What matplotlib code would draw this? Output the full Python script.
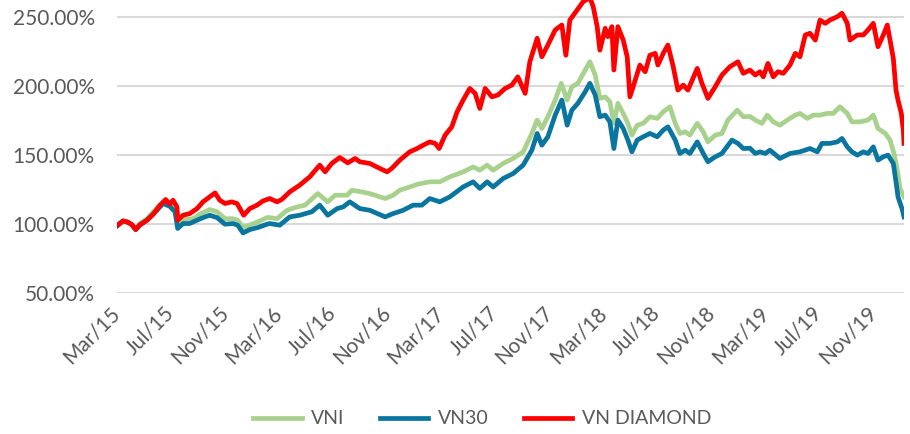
import matplotlib.pyplot as plt
from matplotlib.ticker import FuncFormatter

# trading session index (from the first session in Mar/15) and value in % of start
vni_session = [0, 9, 16, 22, 28, 34, 45, 60, 69, 73, 79, 84, 90, 91, 99, 114, 124, 139, 150, 162,
               174, 181, 189, 199, 211, 225, 229, 240, 255, 270, 282, 301, 316, 327, 345, 352, 367,
               379, 402, 414, 424, 439, 451, 469, 484, 499, 519, 534, 544, 555, 564, 579, 594, 609,
               622, 630, 637, 646, 657, 666, 675, 682, 691, 702, 709, 717, 724, 732, 739, 745, 751,
               759, 766, 772, 780, 789, 799, 810, 819, 829, 837, 844, 852, 859, 870, 879, 886, 897,
               907, 916, 930, 939, 949, 957, 967, 975, 984, 994, 1005, 1017, 1024, 1035, 1044, 1054,
               1065, 1074, 1084, 1095, 1102, 1114, 1126, 1134, 1141, 1152, 1159, 1165, 1170, 1174, 1180]
vni = [99, 102, 101.5, 99.8, 96.5, 100.5, 104, 112, 115.5, 116.2, 114.5, 113.8, 108.9, 99.3, 103.4,
       104, 107.2, 110.6, 109, 104, 104, 102.9, 97.6, 99.3, 101.7, 104.8, 104.8, 104, 110.1, 112.5,
       113.8, 122.2, 116.2, 121, 121, 124.6, 123.4, 122.2, 118.6, 121, 124.6, 127, 129, 130.7, 130.7,
       134.3, 137.9, 141.5, 139.1, 142.8, 139.1, 144, 147.6, 152.4, 165.7, 175.4, 169.3, 177.8, 189.9,
       202, 189.9, 199.5, 202, 211.6, 217.6, 208, 191.1, 192.2, 188.6, 173, 187.5, 180.2, 173, 164.5,
       171.7, 173, 177.8, 176.6, 181.4, 185, 173, 165.7, 166.9, 164.5, 173, 166.9, 159.6, 164.5, 165.7,
       175.4, 182.6, 177.8, 178, 175.4, 173, 179, 174.1, 171.7, 175.4, 179, 180.2, 176.6, 179, 179,
       180.2, 180.2, 185, 180.2, 174.1, 174.1, 175.4, 179, 169.3, 165.7, 160.9, 151.2, 139.1, 125.9,
       119.8]

vn30_session = [0, 9, 16, 22, 28, 34, 45, 60, 69, 79, 87, 91, 99, 109, 120, 129, 139, 150, 162, 174,
                181, 189, 199, 211, 225, 229, 244, 259, 274, 292, 304, 316, 330, 339, 349, 364, 379,
                402, 414, 429, 444, 457, 469, 484, 499, 519, 534, 544, 555, 564, 579, 594, 609, 622,
                630, 637, 646, 657, 667, 675, 682, 691, 702, 709, 717, 724, 732, 739, 745, 751, 759,
                766, 772, 780, 789, 799, 810, 819, 826, 837, 844, 852, 859, 870, 879, 886, 897, 907,
                922, 931, 939, 949, 957, 964, 972, 979, 994, 1009, 1024, 1039, 1050, 1057, 1069, 1080,
                1087, 1095, 1102, 1110, 1119, 1126, 1134, 1141, 1149, 1156, 1164, 1168, 1171, 1177, 1180]
vn30 = [99, 102.4, 101.5, 99.8, 96.1, 99.5, 102.9, 110.1, 115, 113, 109, 96.9, 100.5, 100.5, 102.9,
        104.8, 106.5, 104.8, 100, 100.5, 99.3, 93.7, 96.1, 97.6, 100, 100.5, 99.3, 105.3, 106.5, 109,
        113.8, 106.5, 111.3, 112.5, 116.2, 111.3, 110.1, 105.3, 107.7, 110.1, 113.8, 113.8, 118.6,
        116.2, 119.8, 127, 130.7, 125.9, 130.7, 127, 133.1, 136.7, 142.8, 153.6, 165.7, 157.2, 163.3,
        179, 189.9, 171.7, 182.6, 187.5, 195.9, 202, 193.5, 177.8, 179, 174.1, 154.8, 175.4, 169.3,
        160.9, 152.4, 160.9, 163.3, 165.7, 163.3, 168.1, 170.5, 160.9, 151.2, 153.6, 151.2, 159.6,
        151.2, 145.2, 148.8, 151.2, 160.9, 158.5, 154.8, 155, 151.2, 152.4, 151.2, 153.6, 147.6, 151.2,
        152.4, 154.8, 152.4, 158.5, 158.5, 159.6, 162.1, 156, 152.4, 150, 152.4, 151.2, 156, 146.4,
        148.8, 150, 144, 130.7, 119.8, 111.3, 105.3]

diamond_session = [0, 9, 16, 22, 28, 34, 45, 54, 64, 73, 79, 84, 90, 91, 99, 109, 120, 129, 139, 147,
                   154, 162, 172, 180, 190, 199, 210, 219, 229, 240, 247, 259, 274, 289, 304, 312, 322,
                   334, 346, 357, 364, 379, 394, 405, 412, 424, 439, 450, 459, 469, 477, 483, 492, 502,
                   510, 519, 529, 537, 544, 552, 562, 571, 582, 592, 601, 612, 619, 630, 637, 646, 657,
                   667, 673, 679, 690, 699, 709, 714, 720, 724, 732, 736, 742, 745, 751, 759, 765, 769,
                   777, 784, 792, 799, 807, 811, 819, 826, 834, 841, 849, 856, 870, 877, 886, 897, 907,
                   919, 931, 939, 949, 957, 964, 969, 976, 984, 991, 999, 1009, 1017, 1024, 1032, 1039,
                   1047, 1054, 1062, 1069, 1080, 1087, 1095, 1099, 1110, 1119, 1126, 1134, 1141, 1149,
                   1155, 1159, 1164, 1168, 1171, 1176, 1179, 1180]
diamond = [98.8, 102.4, 101.5, 99.8, 96.1, 99.3, 102.9, 107, 113.5, 117.9, 114.5, 117.4, 112.5, 102.9,
           106.5, 107.7, 111.3, 116.2, 119.8, 122.7, 117.4, 115, 116.2, 115, 106.5, 111.3, 113.8, 116.9,
           118.6, 116.2, 117.9, 123.4, 128.3, 134.3, 142.8, 137.9, 144, 148.3, 144.4, 147.6, 145.2, 144,
           140.4, 137.9, 140.4, 146.4, 152.4, 154.8, 157.2, 159.6, 158.5, 154.8, 164.5, 170.5, 181.4,
           189.9, 198.3, 194.7, 183.8, 198.3, 192.2, 193.5, 198.3, 200.7, 206.7, 194.7, 217.6, 234.6,
           221.2, 229.7, 240.6, 244.2, 222.3, 247.8, 255.1, 261.1, 264, 257.5, 243, 226, 241.8, 235.7,
           243, 211.6, 243, 233.3, 221.2, 192.2, 204.3, 215.2, 210.4, 222.3, 223.7, 215.2, 223.7, 229.7,
           214, 197.1, 200.7, 197.1, 212.8, 202, 191.1, 199.5, 208, 214, 217.6, 209.2, 211.6, 208, 210.4,
           206.7, 216.4, 206.7, 210.4, 209.2, 215.2, 223.7, 221.2, 237, 238.2, 233.3, 247.8, 245.4,
           247.8, 250.2, 252.7, 245.4, 233.3, 237, 237, 240.6, 245.4, 228.5, 237, 244.2, 233.3, 220,
           197.1, 189.9, 180.2, 168.1, 158.5]

tick_labels = ["Mar/15", "Jul/15", "Nov/15", "Mar/16", "Jul/16", "Nov/16", "Mar/17", "Jul/17",
               "Nov/17", "Mar/18", "Jul/18", "Nov/18", "Mar/19", "Jul/19", "Nov/19"]
sessions_per_label = 81

plt.rcParams['font.family'] = ['Lato', 'DejaVu Sans']
text_color = '#595959'

fig = plt.figure(figsize=(9.1, 4.34), dpi=100)
ax = fig.add_axes([117 / 910, 1 - 293.3 / 434, 787 / 910, 293.3 / 434])

ax.plot(vni_session, vni, color='#A9D18E', lw=3.4, label='VNI', solid_joinstyle='round')
ax.plot(vn30_session, vn30, color='#0A759E', lw=3.4, label='VN30', solid_joinstyle='round')
ax.plot(diamond_session, diamond, color='#FF0000', lw=3.4, label='VN DIAMOND', solid_joinstyle='round')

ax.set_xlim(0, 1180)
ax.set_ylim(50, 262.3)
ax.set_yticks([50, 100, 150, 200, 250])
ax.yaxis.set_major_formatter(FuncFormatter(lambda v, p: f"{v:.2f}%"))
ax.set_xticks([i * sessions_per_label for i in range(len(tick_labels))])
ax.set_xticklabels(tick_labels, rotation=45, ha='right', va='center', rotation_mode='anchor')

ax.grid(axis='y', color='#D9D9D9', lw=1.5)
ax.set_axisbelow(True)
for s in ax.spines.values():
    s.set_visible(False)
ax.tick_params(axis='both', length=0, labelsize=15, labelcolor=text_color)
ax.tick_params(axis='y', pad=16)
ax.tick_params(axis='x', pad=12)

fig.legend(loc='lower center', bbox_to_anchor=(0.53, -0.025), ncol=3, frameon=False,
           fontsize=14, labelcolor=text_color, handlelength=2.5, columnspacing=1.8,
           handletextpad=0.5)

fig.savefig('out.png', dpi=100)
